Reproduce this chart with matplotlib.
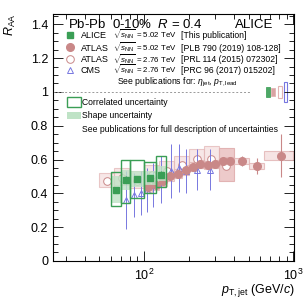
import numpy as np
import matplotlib
matplotlib.use('Agg')
import matplotlib.pyplot as plt
from matplotlib.patches import Rectangle

plt.rcParams['font.family'] = ['Liberation Sans', 'DejaVu Sans']
plt.rcParams['mathtext.fontset'] = 'custom'
plt.rcParams['mathtext.rm'] = 'Liberation Sans'
plt.rcParams['mathtext.it'] = 'Liberation Sans:italic'

# ALICE 5.02 TeV
alice_lo = [60, 70, 80, 100, 120]
alice_hi = [70, 80, 100, 120, 140]
alice_x = [65, 75, 90, 110, 130]
alice_y = [0.42, 0.48, 0.485, 0.49, 0.51]
alice_stat = [0.02, 0.02, 0.02, 0.02, 0.02]
alice_corr_lo = [0.325, 0.34, 0.37, 0.40, 0.44]
alice_corr_hi = [0.525, 0.60, 0.60, 0.585, 0.62]
alice_shape_lo = [0.34, 0.42, 0.44, 0.45, 0.47]
alice_shape_hi = [0.50, 0.54, 0.53, 0.53, 0.56]

# ATLAS 5.02 TeV
atlas5_edges = [100, 112, 126, 141, 158, 178, 200, 224, 251, 282, 316, 355, 398, 501, 631, 1000]
atlas5_x = [106, 119, 133, 149, 168, 189, 212, 237, 266, 298, 336, 376, 450, 570, 820]
atlas5_y = [0.436, 0.45, 0.473, 0.503, 0.517, 0.538, 0.558, 0.574, 0.566, 0.574, 0.59, 0.593, 0.593, 0.562, 0.623]
atlas5_stat = [0.01, 0.01, 0.01, 0.01, 0.01, 0.01, 0.01, 0.01, 0.01, 0.01, 0.012, 0.015, 0.03, 0.045, 0.125]
atlas5_sys = [0.03, 0.03, 0.03, 0.03, 0.028, 0.028, 0.025, 0.025, 0.025, 0.022, 0.02, 0.02, 0.017, 0.018, 0.025]

# ATLAS 2.76 TeV
atlas2_edges = [50, 63, 79, 100, 126, 158, 200, 251, 316, 398]
atlas2_x = [56, 71, 89, 112, 141, 178, 224, 282, 355]
atlas2_y = [0.475, 0.49, 0.47, 0.51, 0.53, 0.57, 0.605, 0.603, 0.564]
atlas2_sys_lo = [0.44, 0.45, 0.43, 0.47, 0.49, 0.52, 0.55, 0.55, 0.475]
atlas2_sys_hi = [0.52, 0.55, 0.53, 0.57, 0.59, 0.62, 0.66, 0.68, 0.667]

# CMS 2.76 TeV
cms_x = [75, 85, 95, 105, 115, 130, 150, 170, 190, 225, 275]
cms_y = [0.36, 0.39, 0.40, 0.42, 0.45, 0.48, 0.53, 0.55, 0.53, 0.54, 0.54]
cms_err = [0.17, 0.13, 0.13, 0.13, 0.13, 0.14, 0.16, 0.14, 0.13, 0.12, 0.12]

# normalisation uncertainties at R_AA = 1
norm_lo = [659, 711, 784, 860]
norm_hi = [693, 752, 832, 908]
norm_err = [0.028, 0.022, 0.034, 0.057]

green = '#3a9e55'
green_fill = '#bfe3c6'
pink = '#c98888'
pink_edge = '#e2b3b3'
pink_fill = '#f4dede'
blue = '#7777e0'

fig = plt.figure(figsize=(3.07, 3.07), dpi=100)
ax = fig.add_axes([0.173, 0.150, 0.785, 0.804])
ax.set_xscale('log')
ax.set_xlim(24.5, 1010)
ax.set_ylim(0, 1.46)

ax.axhline(1, xmin=0, xmax=0.82, color='#999999', ls=(0, (2, 2)), lw=0.7)

# normalisation boxes
ax.add_patch(Rectangle((norm_lo[0], 1 - norm_err[0]), norm_hi[0] - norm_lo[0], 2 * norm_err[0],
                       fc=green, ec=green, lw=0.6, alpha=0.9))
ax.add_patch(Rectangle((norm_lo[1], 1 - norm_err[1]), norm_hi[1] - norm_lo[1], 2 * norm_err[1],
                       fc='#d9a3a3', ec=pink_edge, lw=0.6))
ax.add_patch(Rectangle((norm_lo[2], 1 - norm_err[2]), norm_hi[2] - norm_lo[2], 2 * norm_err[2],
                       fc='none', ec=pink_edge, lw=0.8))
ax.add_patch(Rectangle((norm_lo[3], 1 - norm_err[3]), norm_hi[3] - norm_lo[3], 2 * norm_err[3],
                       fc='none', ec=blue, lw=0.8))

# ATLAS 2.76 boxes
for i in range(len(atlas2_x)):
    lo, hi = atlas2_edges[i], atlas2_edges[i + 1]
    if i == len(atlas2_x) - 1:
        ax.add_patch(Rectangle((lo, atlas2_sys_lo[i]), hi - lo, atlas2_sys_hi[i] - atlas2_sys_lo[i],
                               fc='#edcaca', ec=pink_edge, lw=0.8, zorder=2))
    else:
        ax.add_patch(Rectangle((lo, atlas2_sys_lo[i]), hi - lo, atlas2_sys_hi[i] - atlas2_sys_lo[i],
                               fc=pink_fill, ec=pink_edge, lw=0.8, alpha=0.7, zorder=2))

# ATLAS 5.02 boxes
for i in range(len(atlas5_x)):
    lo, hi = atlas5_edges[i], atlas5_edges[i + 1]
    ax.add_patch(Rectangle((lo, atlas5_y[i] - atlas5_sys[i]), hi - lo, 2 * atlas5_sys[i],
                           fc=pink_fill, ec=pink_edge, lw=0.8, alpha=0.8, zorder=2))

# CMS
ax.errorbar(cms_x, cms_y, yerr=cms_err, fmt='^', ms=5, mfc='none', mec=blue, ecolor=blue,
            elinewidth=0.7, mew=0.7, capsize=0, zorder=4)

# ATLAS points
ax.errorbar(atlas2_x, atlas2_y, fmt='o', ms=5.5, mfc='white', mec=pink, mew=0.7, zorder=3)
ax.errorbar(atlas5_x, atlas5_y, yerr=atlas5_stat, fmt='o', ms=5.5, color=pink, ecolor=pink,
            elinewidth=0.8, capsize=0, zorder=5)

# ALICE
for i in range(len(alice_x)):
    lo, hi = alice_lo[i], alice_hi[i]
    ax.add_patch(Rectangle((lo, alice_shape_lo[i]), hi - lo, alice_shape_hi[i] - alice_shape_lo[i],
                           fc=green_fill, ec='none', alpha=0.8, zorder=6))
    ax.add_patch(Rectangle((lo, alice_corr_lo[i]), hi - lo, alice_corr_hi[i] - alice_corr_lo[i],
                           fc='none', ec=green, lw=1.0, zorder=7))
ax.errorbar(alice_x, alice_y, yerr=alice_stat, fmt='s', ms=5, color=green, ecolor=green,
            elinewidth=0.8, capsize=0, zorder=8)

# legend
tr = ax.transAxes
marker_rows = [0.916, 0.865, 0.818, 0.775]
text_rows = [0.903, 0.852, 0.805, 0.762]
names = ['ALICE', 'ATLAS', 'ATLAS', 'CMS']
energies = ['5.02', '5.02', '2.76', '2.76']
refs = ['[This publication]', '[PLB 790 (2019) 108-128]', '[PRL 114 (2015) 072302]',
        '[PRC 96 (2017) 015202]']
ax.plot(0.07, marker_rows[0], 's', ms=5, color=green, transform=tr, clip_on=False)
ax.plot(0.07, marker_rows[1], 'o', ms=5.5, color=pink, transform=tr, clip_on=False)
ax.plot(0.07, marker_rows[2], 'o', ms=5.5, mfc='white', mec=pink, mew=0.7, transform=tr, clip_on=False)
ax.plot(0.07, marker_rows[3], '^', ms=5, mfc='none', mec=blue, mew=0.7, transform=tr, clip_on=False)
for r, n, e, ref in zip(text_rows, names, energies, refs):
    ax.text(0.115, r, n, transform=tr, fontsize=6.5, va='baseline')
    ax.text(0.25, r, r'$\sqrt{s_{\rm NN}}$ = ' + e + ' TeV', transform=tr, fontsize=5.7, va='baseline')
    ax.text(0.532, r, ref, transform=tr, fontsize=6.2, va='baseline')
ax.text(0.265, 0.713, r'See publications for: $\eta_{\rm jet}$, $p_{\rm T,lead}$', transform=tr,
        fontsize=6.2, va='baseline')

ax.text(0.06, 0.942, r'Pb-Pb  0-10%  $R$ = 0.4', transform=tr, fontsize=9.5, va='baseline')
ax.text(0.915, 0.942, 'ALICE', transform=tr, fontsize=9.5, va='baseline', ha='right')

ax.add_patch(Rectangle((0.058, 0.623), 0.058, 0.04, transform=tr, fc='none', ec=green, lw=1.0))
ax.add_patch(Rectangle((0.058, 0.575), 0.058, 0.03, transform=tr, fc=green_fill, ec='none'))
ax.text(0.12, 0.632, 'Correlated uncertainty', transform=tr, fontsize=6.2, va='baseline')
ax.text(0.12, 0.579, 'Shape uncertainty', transform=tr, fontsize=6.2, va='baseline')
ax.text(0.12, 0.522, 'See publications for full description of uncertainties', transform=tr,
        fontsize=6.2, va='baseline')

# axes
ax.set_yticks([0, 0.2, 0.4, 0.6, 0.8, 1, 1.2, 1.4])
ax.set_yticklabels(['0', '0.2', '0.4', '0.6', '0.8', '1', '1.2', '1.4'])
ax.set_yticks(np.arange(0, 1.46, 0.05), minor=True)
ax.set_xticks([100, 1000])
ax.set_xticklabels([r'$10^{2}$', r'$10^{3}$'])
ax.tick_params(which='both', direction='in', top=True, right=True, labelsize=9, width=0.6)
ax.tick_params(which='major', length=7)
ax.tick_params(which='minor', length=3.5)
ax.tick_params(axis='x', pad=5)
for s in ax.spines.values():
    s.set_linewidth(0.8)

fig.text(0.96, 0.025, r'$p_{\rm T,jet}$ (GeV/$c$)', ha='right', va='bottom', fontsize=9)
fig.text(0.035, 0.955, r'$R_{\rm AA}$', ha='center', va='top', rotation=90, fontsize=9)

fig.savefig('out.png', dpi=100)
